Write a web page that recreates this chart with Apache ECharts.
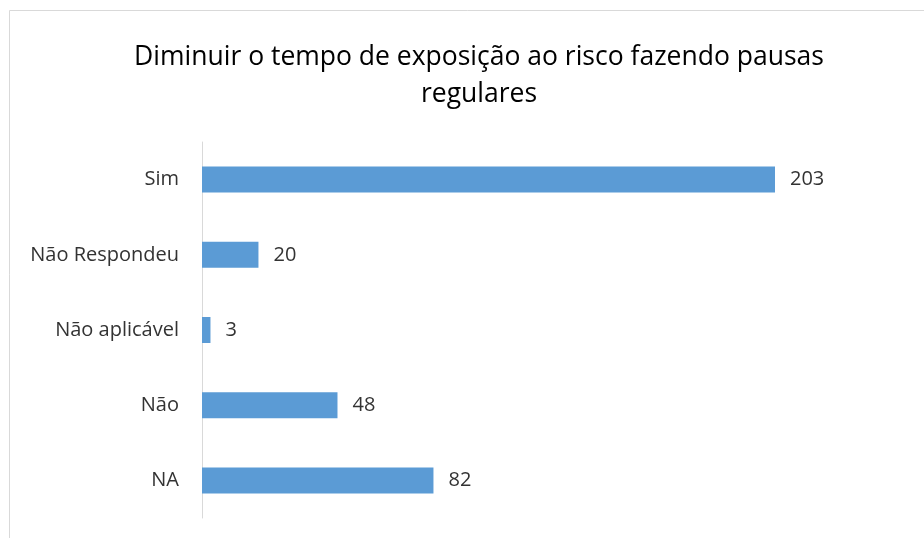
<!DOCTYPE html>
<html>
<head>
<meta charset="utf-8">
<script src="https://cdn.jsdelivr.net/npm/echarts@6/dist/echarts.min.js"></script>
<style>
html, body { margin: 0; padding: 0; background: #fff; }
#chart { width: 924px; height: 538px; }
</style>
</head>
<body>
<div id="chart"></div>
<script>
// categorias de baixo para cima
let categorias = ['NA', 'Não', 'Não aplicável', 'Não Respondeu', 'Sim']
let valores = [82, 48, 3, 20, 203]
let titulo = 'Diminuir o tempo de exposição ao risco fazendo pausas\nregulares'

let chart = echarts.init(document.getElementById('chart'));
let option = {
    backgroundColor: '#ffffff',
    animation: false,
    title: {
        text: titulo,
        left: 474,
        textAlign: 'center',
        top: 34,
        textStyle: {
            fontFamily: 'Open Sans',
            fontWeight: 'normal',
            fontSize: 26.5,
            lineHeight: 37,
            color: '#000000'
        }
    },
    graphic: [{
        type: 'rect',
        shape: { x: 9.5, y: 10.5, width: 1000, height: 1000 },
        style: { fill: 'none', stroke: '#d9d9d9', lineWidth: 1 },
        silent: true
    }],
    grid: {
        left: 202,
        right: 149,
        top: 142,
        bottom: 20,
        containLabel: false
    },
    xAxis: {
        type: 'value',
        min: 0,
        max: 203,
        show: false
    },
    yAxis: {
        type: 'category',
        data: categorias,
        axisLine: { show: true, lineStyle: { color: '#d9d9d9', width: 1 } },
        axisTick: { show: false },
        axisLabel: {
            margin: 23,
            fontFamily: 'Open Sans',
            fontSize: 20,
            color: '#333333'
        }
    },
    series: [{
        name: 'Respostas',
        type: 'bar',
        data: valores,
        barWidth: 26,
        itemStyle: { color: '#5b9bd5' },
        label: {
            show: true,
            position: 'right',
            distance: 15,
            fontFamily: 'Open Sans',
            fontSize: 20,
            color: '#333333'
        }
    }]
};
chart.setOption(option);
</script>
</body>
</html>
